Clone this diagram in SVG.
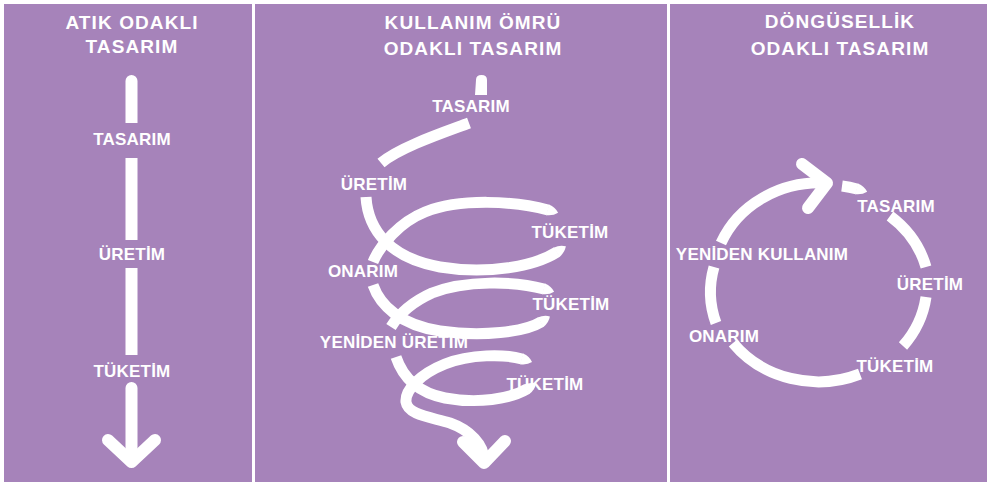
<svg xmlns="http://www.w3.org/2000/svg" width="990" height="485" viewBox="0 0 990 485">
<style>
.panel{fill:#A683BA}
.title{font-family:"Liberation Sans",Arial,sans-serif;font-weight:bold;font-size:19px;fill:#FFFFFF;text-anchor:middle;letter-spacing:1.1px}
.lbl{font-family:"Liberation Sans",Arial,sans-serif;font-weight:bold;font-size:17px;fill:#FFFFFF;text-anchor:middle;letter-spacing:0.2px}
.band{fill:none;stroke:#FFFFFF;stroke-width:11;stroke-linecap:butt}
.head{fill:none;stroke:#FFFFFF;stroke-width:12;stroke-linecap:round;stroke-linejoin:round}
.solid{fill:#FFFFFF}
</style>
<defs>
<marker id="taper" markerUnits="userSpaceOnUse" viewBox="0 0 12 12" markerWidth="12" markerHeight="12" refX="0.5" refY="6" orient="auto-start-reverse" overflow="visible">
<path d="M0,0.5 Q7,1.5 11,6 Q7,10.5 0,11.5 Z" fill="#FFFFFF"/>
</marker>
</defs>
<rect width="990" height="485" fill="#FFFFFF"/>
<rect class="panel" x="4" y="4" width="248" height="478"/>
<rect class="panel" x="255" y="4" width="412" height="478"/>
<rect class="panel" x="670" y="4" width="317" height="478"/>

<g id="titles">
<g id="title-atik"><text class="title" x="132" y="29">ATIK ODAKLI</text><text class="title" x="132" y="53">TASARIM</text></g>
<g id="title-kullanim"><text class="title" x="473" y="29">KULLANIM ÖMRÜ</text><text class="title" x="473" y="55">ODAKLI TASARIM</text></g>
<g id="title-dongusel"><text class="title" x="840" y="28">DÖNGÜSELLİK</text><text class="title" x="840" y="55">ODAKLI TASARIM</text></g>
</g>

<g id="connectors">
<!-- panel 1 -->
<path class="solid" d="M125.5,123 V81 a6,6 0 0 1 12,0 V123 Z"/>
<rect class="solid" x="125.5" y="158" width="12" height="82"/>
<rect class="solid" x="125.5" y="268" width="12" height="87"/>
<path class="head" d="M131.5,388 V461"/>
<path class="head" d="M108,440 L131.5,462 L155,440"/>

<!-- panel 2 -->
<path class="solid" d="M475,95 L476,80 Q476,75 481.5,75 Q487,75 487,80 L487,95 Z"/>
<path class="band" stroke-linecap="round" d="M469,123 C445,132 400,147 381,163"/>
<path class="band" marker-end="url(#taper)" d="M366,197 C368,230 390,258 440,267 C488,275 535,266 557,252"/>
<path class="band" marker-start="url(#taper)" d="M548,210 C515,201 460,198 425,212 C400,222 380,245 373,262"/>
<path class="band" marker-end="url(#taper)" d="M373,285 C380,305 400,325 440,331 C482,337 525,332 541,322"/>
<path class="band" marker-start="url(#taper)" d="M544,289 C515,281 465,280 432,293 C412,302 399,314 391,327"/>
<path class="band" marker-end="url(#taper)" d="M396,357 C402,375 415,392 445,398 C478,404 510,399 527,389"/>
<path class="band" marker-start="url(#taper)" d="M522,359 C505,354 470,354 445,364 C420,374 405,390 406,402 C408,415 430,417 450,423 C470,430 484,445 484,460"/>
<path class="head" d="M463,442 L484,463 L505,441"/>

<!-- panel 3 : ellipse centre (820,281) rx 107 ry 98 -->
<path class="band" d="M721,243 A107,98 0 0 1 826,183"/>
<path class="head" d="M802,164 L827,183 L808,208"/>
<path class="band" stroke-linecap="round" marker-end="url(#taper)" d="M842,186 A107,98 0 0 1 857,189"/>
<path class="band" d="M890,216 A107,98 0 0 1 926,267"/>
<path class="band" d="M926,297 A107,98 0 0 1 903,346"/>
<path class="band" d="M860,374 A107,98 0 0 1 733,343"/>
<path class="band" d="M716,323 A107,98 0 0 1 714,267"/>
</g>

<g id="node-p1-tasarim"><text class="lbl" x="132" y="145">TASARIM</text></g>
<g id="node-p1-uretim"><text class="lbl" x="132" y="260">ÜRETİM</text></g>
<g id="node-p1-tuketim"><text class="lbl" x="132" y="377">TÜKETİM</text></g>

<g id="node-p2-tasarim"><text class="lbl" x="471" y="112">TASARIM</text></g>
<g id="node-p2-uretim"><text class="lbl" x="374" y="190">ÜRETİM</text></g>
<g id="node-p2-tuketim1"><text class="lbl" x="570" y="238">TÜKETİM</text></g>
<g id="node-p2-onarim"><text class="lbl" x="363" y="277">ONARIM</text></g>
<g id="node-p2-tuketim2"><text class="lbl" x="571" y="310">TÜKETİM</text></g>
<g id="node-p2-yeniden"><text class="lbl" x="394" y="348">YENİDEN ÜRETİM</text></g>
<g id="node-p2-tuketim3"><text class="lbl" x="545" y="390">TÜKETİM</text></g>

<g id="node-p3-tasarim"><text class="lbl" x="896" y="212">TASARIM</text></g>
<g id="node-p3-uretim"><text class="lbl" x="930" y="290">ÜRETİM</text></g>
<g id="node-p3-tuketim"><text class="lbl" x="895" y="372">TÜKETİM</text></g>
<g id="node-p3-onarim"><text class="lbl" x="724" y="342">ONARIM</text></g>
<g id="node-p3-yeniden"><text class="lbl" x="762" y="260">YENİDEN KULLANIM</text></g>
</svg>
